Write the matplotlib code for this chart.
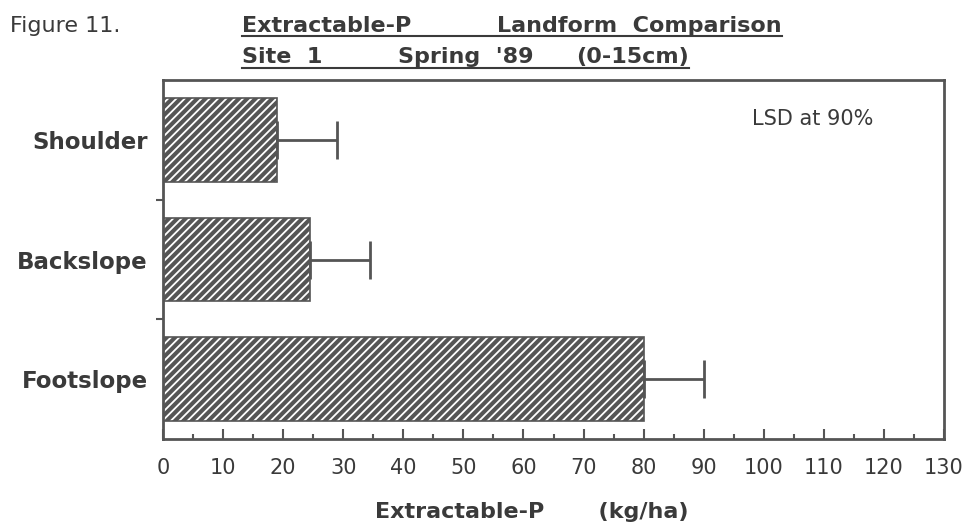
import matplotlib
matplotlib.use("Agg")
import matplotlib.pyplot as plt
from matplotlib.lines import Line2D
from matplotlib.ticker import MultipleLocator, FixedLocator, NullFormatter

landforms = ["Shoulder", "Backslope", "Footslope"]
extractable_p = [19, 24.5, 80]
lsd = [10, 10, 10]
x_ticks = list(range(0, 131, 10))

ink = "#555555"
text_c = "#3a3a3a"
W, H = 971, 529

plt.rcParams["font.family"] = ["DejaVu Sans"]
plt.rcParams["hatch.linewidth"] = 1.3

fig = plt.figure(figsize=(W / 100, H / 100), dpi=100)
ax = fig.add_axes([163 / W, 1 - 439 / H, (944 - 163) / W, (439 - 80) / H])

ypos = list(range(len(landforms)))
ax.barh(ypos, extractable_p, height=0.7, color=ink, edgecolor="white",
        hatch="////", linewidth=0, zorder=2)
ax.barh(ypos, extractable_p, height=0.7, facecolor="none", edgecolor=ink,
        linewidth=1.2, zorder=3)
ax.errorbar(extractable_p, ypos, xerr=[[0] * len(lsd), lsd], fmt="none",
            ecolor=ink, elinewidth=2, capsize=14, capthick=2, zorder=3)

ax.set_xlim(0, 130)
ax.set_ylim(2.5, -0.5)
ax.xaxis.set_major_locator(FixedLocator(x_ticks))
ax.xaxis.set_minor_locator(MultipleLocator(5))
ax.tick_params(axis="x", which="major", direction="in", length=7, width=1.5,
               color=ink, labelsize=15, labelcolor=text_c, pad=14)
ax.tick_params(axis="x", which="minor", direction="in", length=3.5, width=1.5,
               color=ink)
ax.set_xticklabels([str(v) for v in x_ticks])

ax.yaxis.set_major_locator(FixedLocator(ypos))
ax.yaxis.set_minor_locator(FixedLocator([0.5, 1.5]))
ax.tick_params(axis="y", which="major", length=0, pad=11, labelsize=16.5,
               labelcolor=text_c)
ax.tick_params(axis="y", which="minor", direction="out", length=5, width=1.5,
               color=ink)
ax.yaxis.set_minor_formatter(NullFormatter())
ax.set_yticklabels(landforms)
for lbl in ax.get_yticklabels():
    lbl.set_fontweight("bold")

for s in ax.spines.values():
    s.set_color(ink)
    s.set_linewidth(2)

ax.text(752 / W, 1 - 119 / H, "LSD at 90%", transform=fig.transFigure,
        fontsize=15, color=text_c, va="center", ha="left")

# Axis title, placed in figure pixels below the tick labels
fig.text(375 / W, 1 - 518 / H, "Extractable-P       (kg/ha)", fontsize=16,
         fontweight="bold", color=text_c, va="baseline", ha="left")

fig.text(10 / W, 1 - 32 / H, "Figure 11.", fontsize=16, color=text_c,
         va="baseline", ha="left")

# Two-line underlined heading, each phrase placed on its own
heading = [
    (32, 36, [("Extractable-P", 242), ("Landform  Comparison", 497)]),
    (63, 68, [("Site  1", 242), ("Spring  '89", 398), ("(0-15cm)", 576)]),
]
fig.canvas.draw()
renderer = fig.canvas.get_renderer()
for base_px, ul_px, parts in heading:
    x_right = 0
    for txt, xpx in parts:
        t = fig.text(xpx / W, 1 - base_px / H, txt, fontsize=16,
                     fontweight="bold", color=text_c, va="baseline",
                     ha="left")
        bb = t.get_window_extent(renderer=renderer)
        x_right = max(x_right, bb.x1)
    y_ul = 1 - ul_px / H
    fig.add_artist(Line2D([242 / W, x_right / W], [y_ul, y_ul],
                          transform=fig.transFigure, color=text_c,
                          linewidth=1.5))

fig.savefig("out.png", dpi=100)
